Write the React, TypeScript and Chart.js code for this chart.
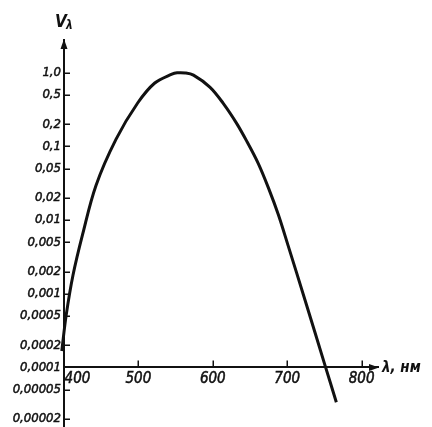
import { useEffect, useRef } from 'react';
import { Chart, registerables } from 'chart.js';

Chart.register(...registerables);

// Wavelength (nm) and relative luminous efficiency V_λ
const wavelengths = [397, 403, 412, 425, 443, 470, 499, 522, 545, 552, 563, 574, 596, 614, 632, 646, 661, 675, 688, 701, 724, 751, 766];
const vLambda = [0.000167, 0.000516, 0.00177, 0.0064, 0.0296, 0.126, 0.389, 0.727, 0.96, 1.0, 0.995, 0.93, 0.64, 0.385, 0.206, 0.116, 0.059, 0.027, 0.0119, 0.00457, 0.000817, 0.000105, 0.0000336];

const xTickValues = [400, 500, 600, 700, 800];
const xTickLabels = ['\u2003\u2003400', '500', '600', '700', '800'];
const yTickValues = [1, 0.5, 0.2, 0.1, 0.05, 0.02, 0.01, 0.005, 0.002, 0.001, 0.0005, 0.0002, 0.0001, 0.00005, 0.00002];
const yTickLabels = ['1,0', '0,5', '0,2', '0,1', '0,05', '0,02', '0,01', '0,005', '0,002', '0,001', '0,0005', '0,0002', '0,0001', '0,00005', '0,00002'];

const xMin = 400;
const xMax = 822;
const yMin = 1.55e-5;
const yMax = 2.79;
const xAxisAt = 0.0001;

const yTitle = 'V';
const yTitleSub = 'λ';
const xTitle = 'λ, нм';

const FONT = "'DejaVu Sans Condensed', 'Liberation Sans Narrow', sans-serif";
const INK = '#111';

export default function App() {
  const ref = useRef<HTMLCanvasElement>(null);

  useEffect(() => {
    document.body.style.margin = '0';
    const decor = {
      id: 'decor',
      afterDraw(chart: any) {
        const { ctx, chartArea } = chart;
        const xScale = chart.scales.x;
        const yScale = chart.scales.y;
        const ax = chartArea.left;
        const ay = yScale.getPixelForValue(xAxisAt);
        ctx.save();
        ctx.strokeStyle = INK;
        ctx.fillStyle = INK;
        ctx.lineWidth = 1.5;
        // inward tick marks
        ctx.beginPath();
        for (const t of yScale.ticks) {
          const py = Math.round(yScale.getPixelForValue(t.value)) + 0.25;
          ctx.moveTo(ax, py);
          ctx.lineTo(ax + 6, py);
        }
        for (const t of xScale.ticks) {
          if (t.value === xMin) continue;
          const px = Math.round(xScale.getPixelForValue(t.value)) + 0.25;
          ctx.moveTo(px, ay);
          ctx.lineTo(px, ay - 7);
        }
        ctx.stroke();
        // arrow on y axis
        ctx.beginPath();
        ctx.moveTo(ax, chartArea.top - 1);
        ctx.lineTo(ax - 3.5, chartArea.top + 9);
        ctx.lineTo(ax + 3.5, chartArea.top + 9);
        ctx.closePath();
        ctx.fill();
        // arrow on x axis
        ctx.beginPath();
        ctx.moveTo(chartArea.right + 1, ay);
        ctx.lineTo(chartArea.right - 9, ay - 3.5);
        ctx.lineTo(chartArea.right - 9, ay + 3.5);
        ctx.closePath();
        ctx.fill();
        // titles
        ctx.textBaseline = 'alphabetic';
        ctx.textAlign = 'left';
        ctx.font = `italic bold 17px ${FONT}`;
        ctx.fillText(yTitle, ax - 9, 27);
        ctx.font = `italic bold 12px ${FONT}`;
        ctx.fillText(yTitleSub, ax + 2, 29);
        ctx.font = `italic bold 15px ${FONT}`;
        ctx.fillText(xTitle, chartArea.right + 4, ay + 5);
        ctx.restore();
      },
    };

    const chart = new Chart(ref.current as HTMLCanvasElement, {
      type: 'line',
      data: {
        datasets: [
          {
            data: wavelengths.map((x, i) => ({ x, y: vLambda[i] })),
            borderColor: INK,
            borderWidth: 3,
            pointRadius: 0,
            tension: 0.35,
            clip: false as any,
            fill: false,
          },
        ],
      },
      options: {
        animation: false,
        responsive: false,
        devicePixelRatio: 1,
        layout: { padding: { left: 0, top: 40, right: 54, bottom: 0 } },
        plugins: { legend: { display: false }, tooltip: { enabled: false } },
        scales: {
          x: {
            type: 'linear',
            position: { y: xAxisAt } as any,
            bounds: 'data',
            afterDataLimits: (s: any) => {
              s.min = xMin;
              s.max = xMax;
            },
            afterBuildTicks: (s: any) => {
              s.ticks = xTickValues.map((v) => ({ value: v }));
            },
            afterFit: (s: any) => {
              s.height = 0;
              s.paddingLeft = 0;
              s.paddingRight = 0;
            },
            grid: { drawOnChartArea: false, drawTicks: false },
            border: { display: true, color: INK, width: 2 },
            ticks: {
              autoSkip: false,
              maxRotation: 0,
              padding: 3,
              color: INK,
              textStrokeColor: INK,
              textStrokeWidth: 0.5,
              font: { family: FONT, size: 15, style: 'italic' },
              callback: (_v: any, i: number) => xTickLabels[i],
            },
          },
          y: {
            type: 'logarithmic',
            position: 'left',
            min: yMin,
            max: yMax,
            bounds: 'data',
            afterBuildTicks: (s: any) => {
              s.ticks = yTickValues.map((v) => ({ value: v }));
            },
            afterFit: (s: any) => {
              s.width = 64;
              s.paddingTop = 0;
              s.paddingBottom = 0;
            },
            grid: { drawOnChartArea: false, drawTicks: false },
            border: { display: true, color: INK, width: 2 },
            ticks: {
              autoSkip: false,
              padding: 3,
              color: INK,
              textStrokeColor: INK,
              textStrokeWidth: 0.5,
              font: { family: FONT, size: 13, style: 'italic' },
              callback: (_v: any, i: number) => yTickLabels[i],
            },
          },
        },
      } as any,
      plugins: [decor],
    });
    return () => chart.destroy();
  }, []);

  return <canvas ref={ref} width={432} height={427} style={{ display: 'block' }} />;
}
